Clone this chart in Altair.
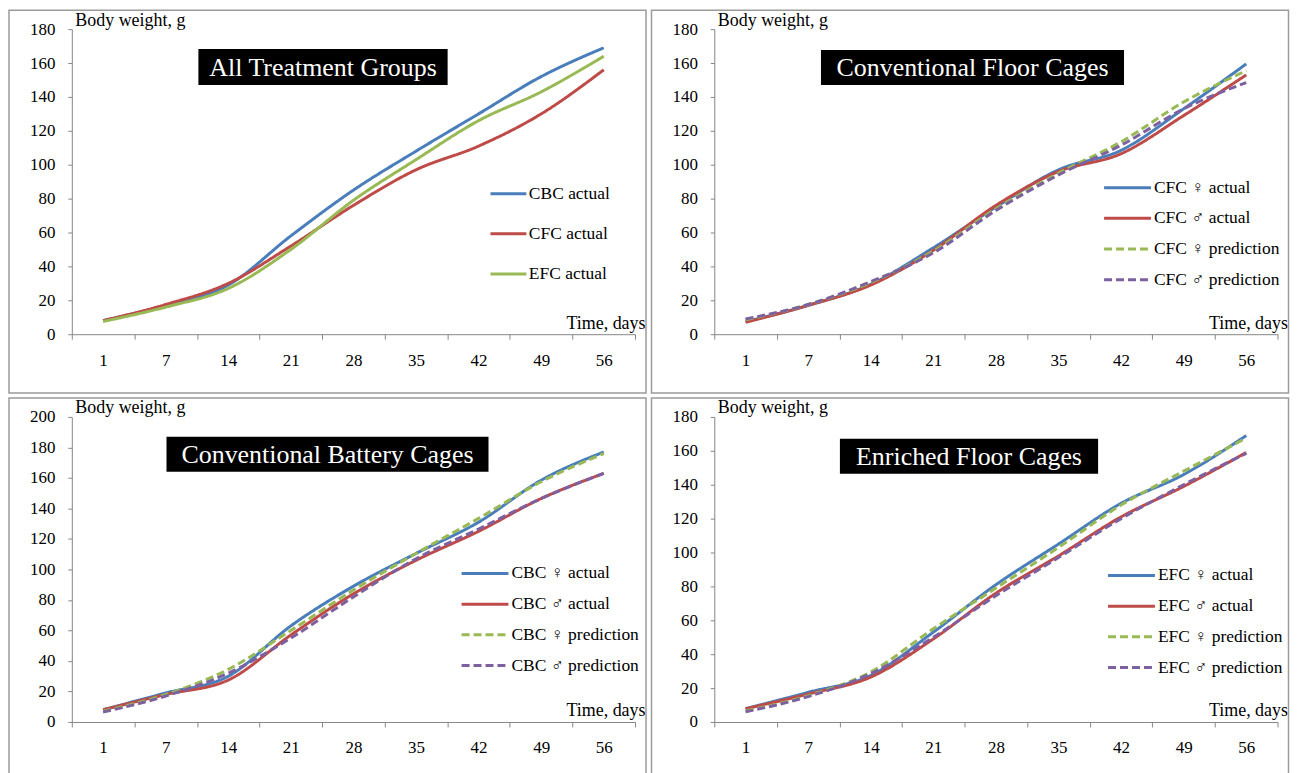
import altair as alt
import pandas as pd

days = ["1", "7", "14", "21", "28", "35", "42", "49", "56"]

# Panel 1: all treatment groups
all_names = ["CBC actual", "CFC actual", "EFC actual"]
all_cbc = [8, 17, 29, 58, 85, 108, 130, 152, 169]
all_cfc = [8, 17.5, 30, 52, 76, 97, 111, 130, 156]
all_efc = [7.5, 16, 27, 50, 79, 103, 126, 143, 164]

# Panel 2: conventional floor cages
cfc_names = ["CFC ♀ actual", "CFC ♂ actual", "CFC ♀ prediction", "CFC ♂ prediction"]
cfc_f_act = [7.5, 17, 29.5, 51, 75, 97, 108.5, 133, 159.5]
cfc_m_act = [7, 17, 29, 49.5, 76, 96, 106.5, 129, 153]
cfc_f_pred = [8.5, 17.5, 30.5, 49, 74, 95, 113.5, 137, 155.5]
cfc_m_pred = [9, 17.5, 31, 48, 73, 94, 111.5, 133, 148.5]

# Panel 3: conventional battery cages
cbc_names = ["CBC ♀ actual", "CBC ♂ actual", "CBC ♀ prediction", "CBC ♂ prediction"]
cbc_f_act = [8, 19, 30, 63, 89, 110.5, 131, 158.5, 177]
cbc_m_act = [8, 18, 27.5, 57, 84, 106, 125, 146.5, 163]
cbc_f_pred = [7, 18, 34.5, 60, 86.5, 110.5, 133.5, 157.5, 176]
cbc_m_pred = [6.5, 17, 32, 55, 82, 107, 126.5, 146.5, 163]

# Panel 4: enriched floor cages
efc_names = ["EFC ♀ actual", "EFC ♂ actual", "EFC ♀ prediction", "EFC ♂ prediction"]
efc_f_act = [7.8, 17.5, 27.5, 53, 81, 105, 129, 146, 169]
efc_m_act = [7.8, 16.5, 26.5, 49, 76, 98, 121, 139, 159]
efc_f_pred = [6.5, 15.5, 29.5, 55, 79, 103, 128, 148, 167.5]
efc_m_pred = [6, 15, 28.5, 50, 74.5, 97, 120, 140, 158.5]

FONT = "Liberation Serif"
LEG_FONT = "Liberation Serif, DejaVu Sans"
BLUE, RED, GREEN, PURPLE = "#4A7EBB", "#BE4B48", "#98B954", "#7D60A0"
SOLID, DASH = [1, 0], [8, 4]
AXIS_GREY = "#868686"
W, H = 565, 306


def panel(names, series, colors, dashes, ymax, title, box, leg):
    rows = []
    for n, vals in zip(names, series):
        for d, v in zip(days, vals):
            rows.append({"day": d, "value": v, "series": n})
    df = pd.DataFrame(rows)

    legend = alt.Legend(
        title=None, orient="none", legendX=leg["x"], legendY=leg["y"],
        symbolType=leg["path"], symbolSize=256, symbolStrokeWidth=3,
        labelFont=LEG_FONT, labelFontSize=17.5, labelColor="black",
        labelOffset=leg["off"], rowPadding=leg["row"], padding=0, labelLimit=400,
    )

    lines = alt.Chart(df).mark_line(interpolate="monotone", strokeWidth=3).encode(
        x=alt.X(
            "day:N", sort=days, bandPosition=0.5,
            scale=alt.Scale(type="band", paddingInner=0, paddingOuter=0),
            axis=alt.Axis(
                title="Time, days", titleX=W + 10, titleY=-6, titleAlign="right",
                titleBaseline="alphabetic", titleAngle=0,
                labelAngle=0, tickBand="extent", tickSize=5, labelPadding=13,
                grid=False,
            ),
        ),
        y=alt.Y(
            "value:Q", scale=alt.Scale(domain=[0, ymax], nice=False),
            axis=alt.Axis(
                values=list(range(0, ymax + 1, 20)), title="Body weight, g",
                titleAngle=0, titleX=3, titleY=-4, titleAlign="left",
                titleBaseline="alphabetic", tickSize=4, labelPadding=13, grid=False,
            ),
        ),
        color=alt.Color("series:N", scale=alt.Scale(domain=names, range=colors), legend=legend),
        strokeDash=alt.StrokeDash("series:N", scale=alt.Scale(domain=names, range=dashes), legend=legend),
    )

    one = pd.DataFrame({"k": [0]})
    border = alt.Chart(one).mark_rect(fillOpacity=0, stroke="#9B9B9B", strokeWidth=1.5).encode(
        x=alt.value(-63), x2=alt.value(W + 11), y=alt.value(-19), y2=alt.value(365)
    )
    x0, x1, y0, y1 = box
    tbox = alt.Chart(one).mark_rect(color="black").encode(
        x=alt.value(x0), x2=alt.value(x1), y=alt.value(y0), y2=alt.value(y1)
    )
    ttext = alt.Chart(one).mark_text(
        text=title, font=FONT, fontSize=26, color="white", align="center", baseline="middle"
    ).encode(x=alt.value((x0 + x1) / 2), y=alt.value((y0 + y1) / 2 + 1))

    return alt.layer(border, tbox, ttext, lines).properties(width=W, height=H)


p1 = panel(all_names, [all_cbc, all_cfc, all_efc], [BLUE, RED, GREEN], [SOLID, SOLID, SOLID],
           180, "All Treatment Groups", (127, 377, 20, 56),
           {"path": "M-2.25,0H2.25", "off": 11, "row": 22.3, "x": 428.5, "y": 155.5})
p2 = panel(cfc_names, [cfc_f_act, cfc_m_act, cfc_f_pred, cfc_m_pred], [BLUE, RED, GREEN, PURPLE],
           [SOLID, SOLID, DASH, DASH], 180, "Conventional Floor Cages", (107, 411, 21, 56),
           {"path": "M-2.9375,0H2.9375", "off": 17, "row": 12.8, "x": 405, "y": 149.5})
p3 = panel(cbc_names, [cbc_f_act, cbc_m_act, cbc_f_pred, cbc_m_pred], [BLUE, RED, GREEN, PURPLE],
           [SOLID, SOLID, DASH, DASH], 200, "Conventional Battery Cages", (95, 418, 20, 55),
           {"path": "M-2.9375,0H2.9375", "off": 17, "row": 12.8, "x": 405, "y": 147.5})
p4 = panel(efc_names, [efc_f_act, efc_m_act, efc_f_pred, efc_m_pred], [BLUE, RED, GREEN, PURPLE],
           [SOLID, SOLID, DASH, DASH], 180, "Enriched Floor Cages", (126, 385, 22, 57),
           {"path": "M-2.9375,0H2.9375", "off": 17, "row": 12.8, "x": 409, "y": 149.5})

top = alt.hconcat(p1, p2, spacing=3.5).resolve_scale(color="independent", strokeDash="independent")
bottom = alt.hconcat(p3, p4, spacing=3.5).resolve_scale(color="independent", strokeDash="independent")

chart = (
    alt.vconcat(top, bottom, spacing=3)
    .resolve_scale(color="independent", strokeDash="independent")
    .properties(padding=0, background="white")
    .configure_view(stroke=None)
    .configure_axis(
        labelFont=FONT, labelFontSize=17, labelColor="black",
        titleFont=FONT, titleFontSize=18, titleFontWeight="normal", titleColor="black",
        domainColor=AXIS_GREY, tickColor=AXIS_GREY, domainWidth=1, tickWidth=1,
    )
)

chart.save("out.html", embed_options={"renderer": "svg", "actions": False})
